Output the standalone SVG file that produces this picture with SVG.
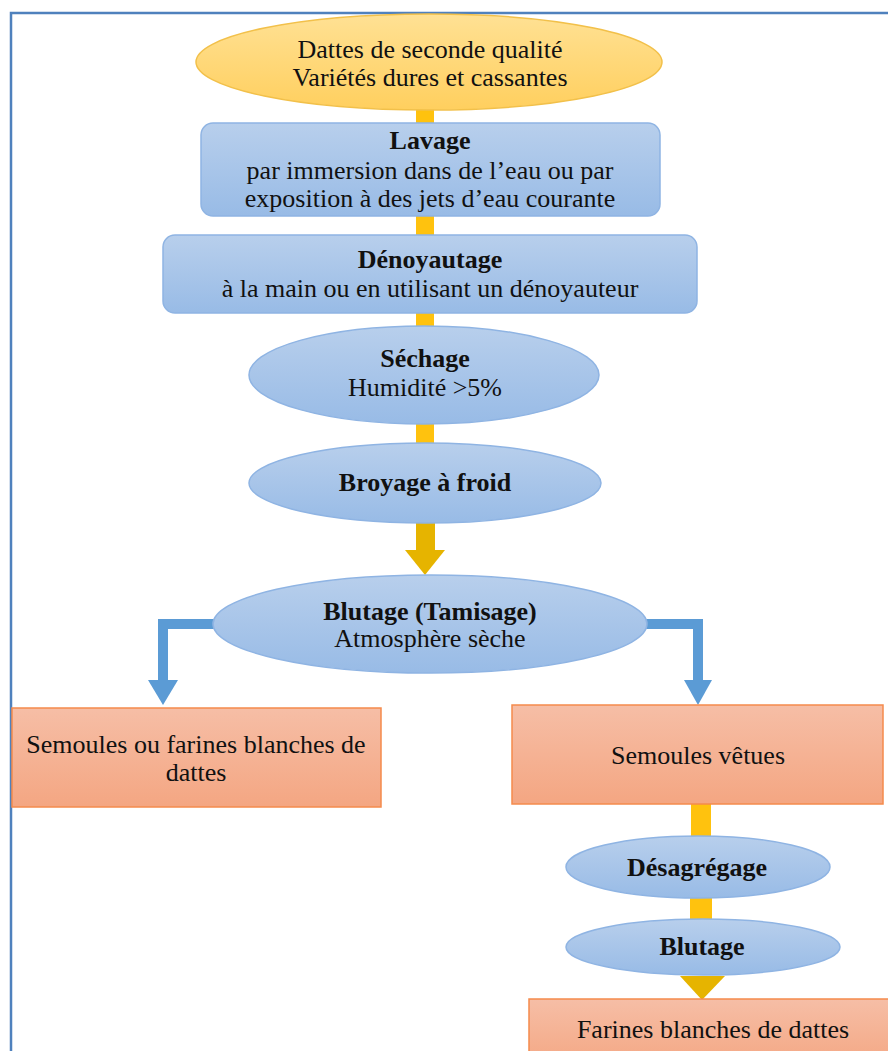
<svg xmlns="http://www.w3.org/2000/svg" width="888" height="1051" viewBox="0 0 888 1051">
<defs>
<linearGradient id="gBlue" x1="0" y1="0" x2="0" y2="1"><stop offset="0" stop-color="#b8cfec"/><stop offset="1" stop-color="#98bbe6"/></linearGradient>
<linearGradient id="gOrange" x1="0" y1="0" x2="0" y2="1"><stop offset="0" stop-color="#f6bea6"/><stop offset="1" stop-color="#f4a682"/></linearGradient>
<linearGradient id="gGold" x1="0" y1="0" x2="0" y2="1"><stop offset="0" stop-color="#ffe194"/><stop offset="1" stop-color="#ffcf5e"/></linearGradient>
<style>
text{font-family:"Liberation Serif","Times New Roman",serif;font-size:26px;fill:#111;text-anchor:middle}
.b{font-weight:bold}
.blue{fill:url(#gBlue);stroke:#8fb4e3;stroke-width:1.5}
.orange{fill:url(#gOrange);stroke:#f58b4c;stroke-width:1.5}
.gold{fill:url(#gGold);stroke:#f2c04a;stroke-width:1.5}
.bar{fill:#ffc20e}
.head{fill:#e6b400}
.bl{fill:none;stroke:#5b9bd5;stroke-width:10}
.bh{fill:#5b9bd5}
</style>
</defs>
<rect x="0" y="0" width="888" height="1051" fill="#ffffff"/>
<path d="M11 1060 V13 H900" fill="none" stroke="#4f81bd" stroke-width="2.5"/>
<g id="connectors">
<rect class="bar" x="416" y="100" width="18" height="30"/>
<rect class="bar" x="416" y="210" width="18" height="30"/>
<rect class="bar" x="416" y="308" width="18" height="26"/>
<rect class="bar" x="416" y="418" width="18" height="30"/>
<rect class="head" x="416" y="520" width="19" height="32"/>
<polygon class="head" points="405,550 445,550 425,575"/>
<path class="bl" d="M216 624 H163 V682"/>
<polygon class="bh" points="148,680 178,680 163,705"/>
<path class="bl" d="M645 624 H698 V682"/>
<polygon class="bh" points="684,680 712,680 698,705"/>
<rect class="bar" x="691" y="802" width="20" height="38"/>
<rect class="bar" x="690" y="894" width="22" height="28"/>
<polygon class="head" points="680,976 725,976 702,1000"/>
</g>
<g id="n-start">
<ellipse class="gold" cx="429" cy="62" rx="233" ry="48"/>
<text x="430" y="58">Dattes de seconde qualité</text>
<text x="430" y="86">Variétés dures et cassantes</text>
</g>
<g id="n-lavage">
<rect class="blue" x="201" y="123" width="459" height="93" rx="12"/>
<text class="b" x="430" y="149">Lavage</text>
<text x="430" y="179">par immersion dans de l’eau ou par</text>
<text x="430" y="207">exposition à des jets d’eau courante</text>
</g>
<g id="n-denoyautage">
<rect class="blue" x="163" y="235" width="534" height="78" rx="12"/>
<text class="b" x="430" y="268">Dénoyautage</text>
<text x="430" y="297">à la main ou en utilisant un dénoyauteur</text>
</g>
<g id="n-sechage">
<ellipse class="blue" cx="424" cy="375" rx="175" ry="49"/>
<text class="b" x="425" y="367">Séchage</text>
<text x="425" y="396">Humidité &gt;5%</text>
</g>
<g id="n-broyage">
<ellipse class="blue" cx="425" cy="483" rx="176" ry="40"/>
<text class="b" x="425" y="491">Broyage à froid</text>
</g>
<g id="n-blutage1">
<ellipse class="blue" cx="430" cy="624" rx="217" ry="49"/>
<text class="b" x="430" y="620">Blutage (Tamisage)</text>
<text x="430" y="647">Atmosphère  sèche</text>
</g>
<g id="n-semoules-farines">
<rect class="orange" x="12" y="708" width="369" height="99"/>
<text x="196" y="753">Semoules ou farines blanches de</text>
<text x="196" y="781">dattes</text>
</g>
<g id="n-semoules-vetues">
<rect class="orange" x="512" y="705" width="371" height="99"/>
<text x="698" y="764">Semoules vêtues</text>
</g>
<g id="n-desagregage">
<ellipse class="blue" cx="698" cy="867" rx="132" ry="31"/>
<text class="b" x="697" y="876">Désagrégage</text>
</g>
<g id="n-blutage2">
<ellipse class="blue" cx="703" cy="947" rx="137" ry="28"/>
<text class="b" x="702" y="955">Blutage</text>
</g>
<g id="n-farines">
<rect class="orange" x="529" y="999" width="370" height="70"/>
<text x="713" y="1038">Farines blanches de dattes</text>
</g>
</svg>
